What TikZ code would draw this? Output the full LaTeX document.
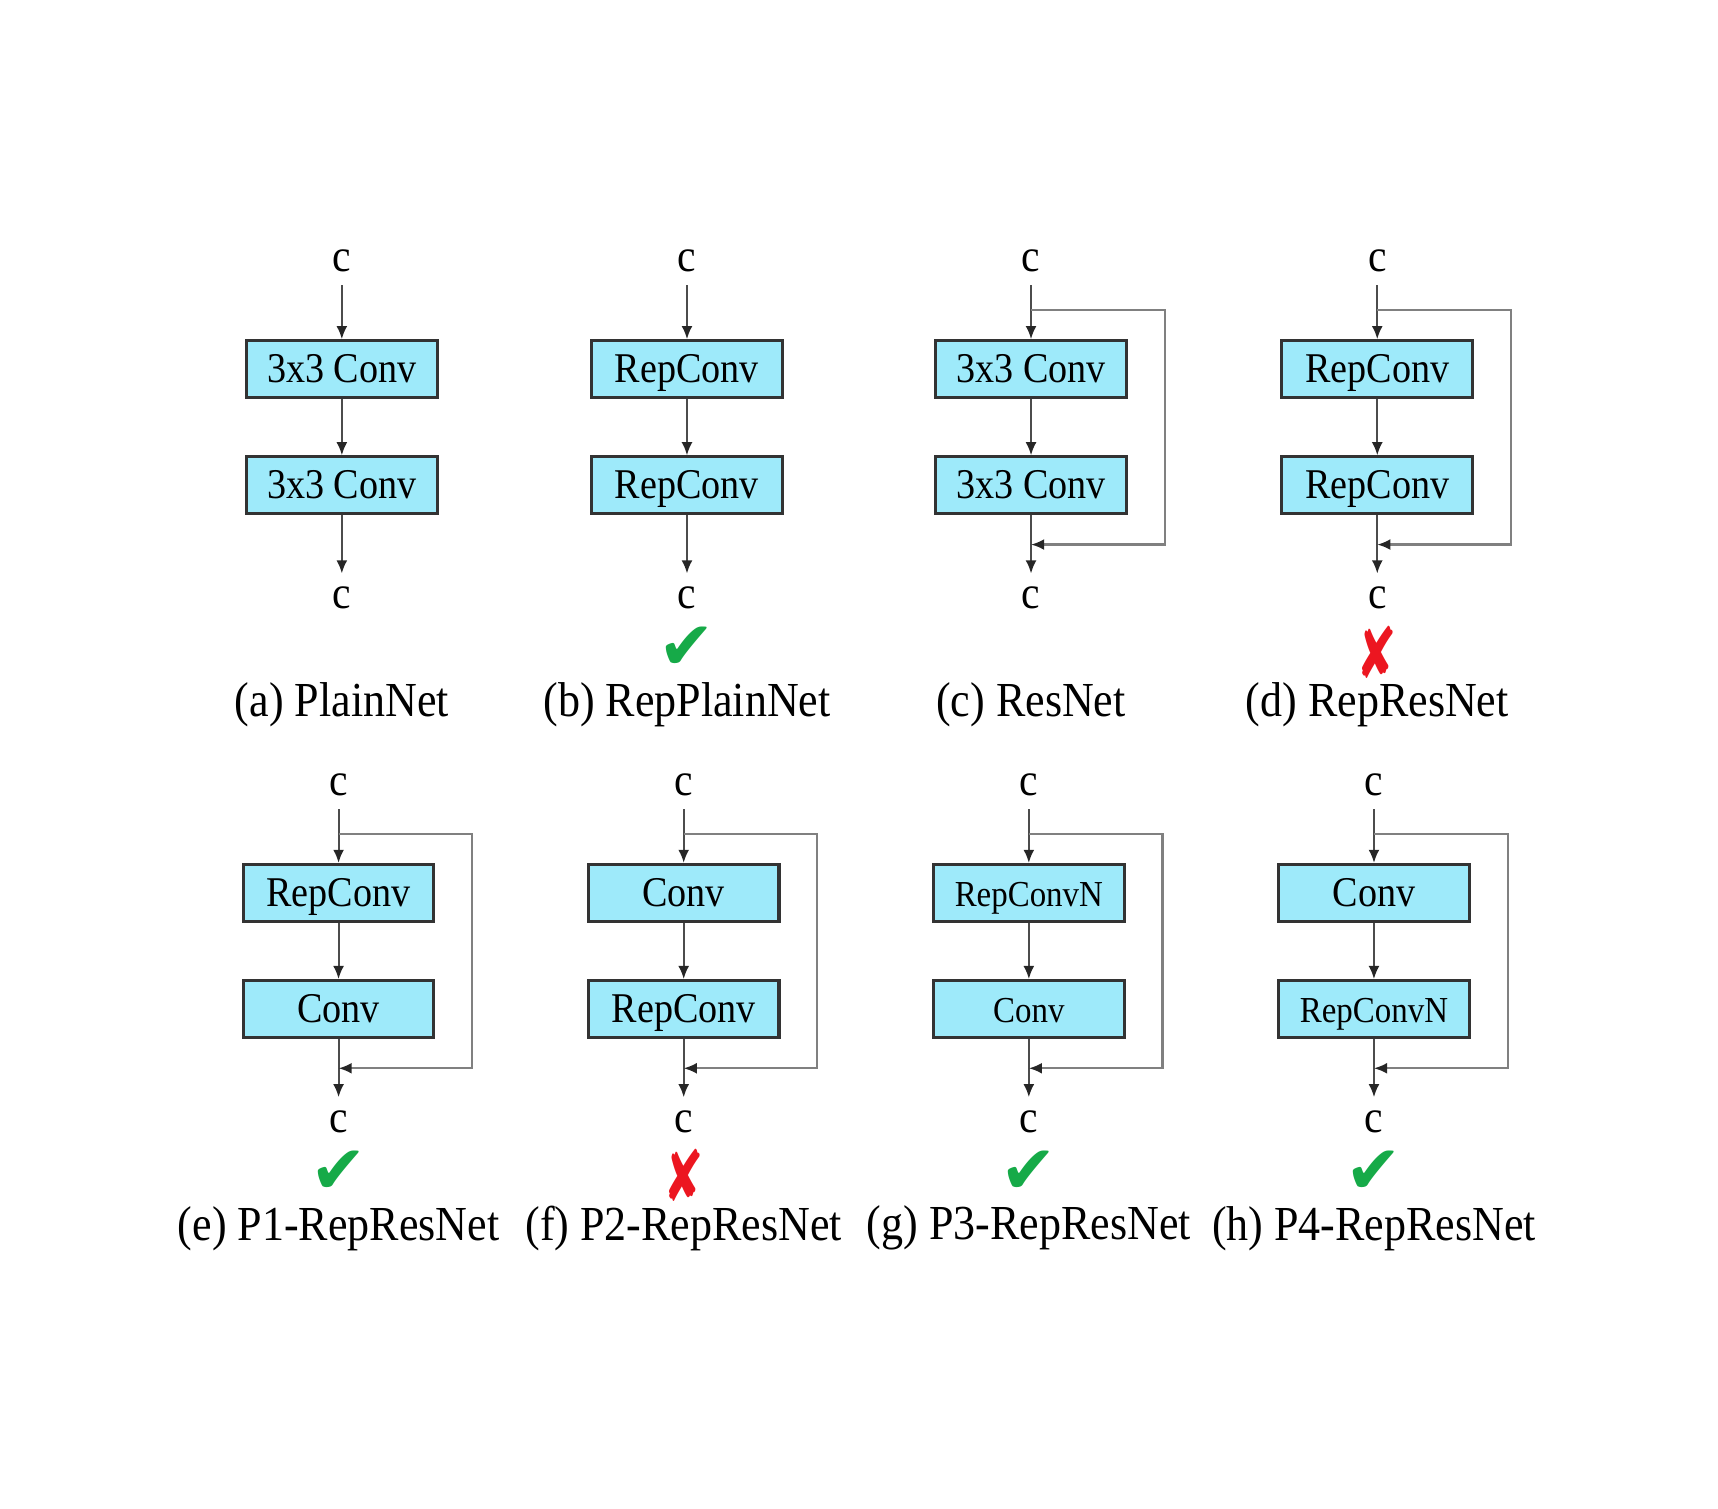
\documentclass[tikz,border=0pt]{standalone}
\usepackage{fontspec}
\setmainfont[FakeStretch=0.9]{Liberation Serif}
\newfontfamily\symfont{DejaVu Sans}
\usetikzlibrary{arrows.meta,positioning}

\definecolor{boxcyan}{RGB}{158,234,250}
\definecolor{okgreen}{RGB}{22,170,72}
\definecolor{nored}{RGB}{236,22,32}

\tikzset{
  block/.style={draw=black!80, fill=boxcyan, line width=0.8pt, minimum width=1.74cm, minimum height=0.52cm, inner sep=0pt, text height=0.7em, text depth=0pt, font=\fontsize{11}{13}\selectfont},
  convN/.style={font=\fontsize{9.5}{11}\selectfont},
  lbl/.style={font=\fontsize{12}{14}\selectfont},
  panelcap/.style={inner sep=0pt, font=\fontsize{12.7}{15}\selectfont},
  flow/.style={draw=black!70, line width=0.55pt, -{Latex[length=1.2mm,width=1mm,color=black!85]}},
  shortcut/.style={draw=black!50, line width=0.55pt, -{Latex[length=1.2mm,width=1mm,color=black!85]}},
  verdict/.style={inner sep=0pt, font=\symfont\fontsize{17.5}{19}\selectfont}
}

\begin{document}
\begin{tikzpicture}
% Parameters
\def\skipX{1.22};
\useasboundingbox (0,0) rectangle (15.68,-13.77);

% Panels: name / x / row offset / blocks / block styles / shortcut / caption
\foreach \n/\x/\y/\firstBlock/\secondBlock/\firstStyle/\secondStyle/\res/\panelCaption in {
  a/3.12/-0.03/{3x3 Conv}/{3x3 Conv}/block/block/0/{(a) PlainNet},
  b/6.27/-0.03/RepConv/RepConv/block/block/0/{(b) RepPlainNet},
  c/9.41/-0.03/{3x3 Conv}/{3x3 Conv}/block/block/1/{(c) ResNet},
  d/12.57/-0.03/RepConv/RepConv/block/block/1/{(d) RepResNet},
  e/3.09/-4.81/RepConv/Conv/block/block/1/{(e) P1-RepResNet},
  f/6.24/-4.81/Conv/RepConv/block/block/1/{(f) P2-RepResNet},
  g/9.39/-4.81/RepConvN/Conv/convN/convN/1/{(g) P3-RepResNet},
  h/12.54/-4.81/Conv/RepConvN/block/convN/1/{(h) P4-RepResNet}}
{
\node[lbl] (top\n) at (\x,\y-2.35) {c};
\node[block,\firstStyle] (first\n) at (\x,\y-3.34) {\firstBlock};
\node[block,\secondStyle] (second\n) at (\x,\y-4.40) {\secondBlock};
\node[lbl] (bot\n) at (\x,\y-5.43) {c};
\node[panelcap] (cap\n) at (\x,\y-6.40) {\panelCaption};
\draw[flow] (top\n) -- (first\n);
\draw[flow] (first\n) -- (second\n);
\draw[flow] (second\n) -- (bot\n);
% identity branch
\ifnum\res=1
\coordinate (split\n) at (\x,\y-2.80);
\coordinate (join\n) at (\x,\y-4.94);
\draw[shortcut] (split\n) -- ++(\skipX,0) |- (join\n);
\fi
}

% Check marks
\foreach \n/\tint/\lift/\sym in {b/okgreen/0.51/✔, d/nored/0.48/\scalebox{0.72}[1.05]{✘}, e/okgreen/0.51/✔, f/nored/0.48/\scalebox{0.72}[1.05]{✘}, g/okgreen/0.51/✔, h/okgreen/0.51/✔}
{
\node[verdict,text=\tint] (mark\n) at ([yshift=\lift cm]cap\n.center) {\sym};
}

\end{tikzpicture}
\end{document}
